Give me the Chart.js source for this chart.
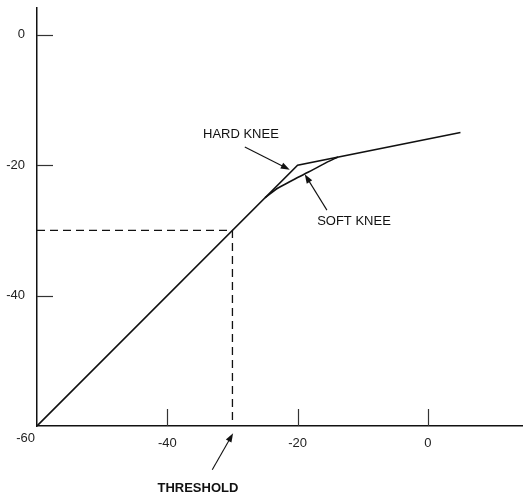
<!DOCTYPE html>
<html>
<head>
<meta charset="utf-8">
<script src="https://cdn.jsdelivr.net/npm/chart.js@4/dist/chart.umd.min.js"></script>
<style>
  html, body { margin: 0; padding: 0; background: #fff; }
  canvas { display: block; }
</style>
</head>
<body>
<canvas id="chart" width="523" height="493"></canvas>
<script>
'use strict';

// Input level (dB) vs output level (dB).
var hardKneeX = [-60, -20, 5];
var hardKneeY = [-60, -20, -15];

var softKneeX = [-25, -23, -21.5, -20, -18.4, -16.9, -15.4, -13.8];
var softKneeY = [-25, -23.5, -22.7, -21.9, -21.1, -20.3, -19.5, -18.75];

var thresholdX = [-60, -30, -30];
var thresholdY = [-30, -30, -60];

var xTicks = [-40, -20, 0];
var yTicks = [0, -20, -40];
var cornerLabel = '-60';

// Labels with arrows, in data coordinates.
var notes = [
  { text: 'HARD KNEE', at: [-28.7, -15.3], align: 'center', bold: false,
    from: [-28.1, -17.2], to: [-21.2, -20.7] },
  { text: 'SOFT KNEE', at: [-17.0, -28.7], align: 'left', bold: false,
    from: [-15.5, -26.9], to: [-18.9, -21.4] },
  { text: 'THRESHOLD', at: [-35.3, -69.6], align: 'center', bold: true,
    from: [-33.1, -66.7], to: [-29.9, -61.1] }
];

function toPoints(xs, ys) {
  return xs.map(function(x, i) { return { x: x, y: ys[i] }; });
}

var FONT = '"Liberation Sans", Arial, sans-serif';

function drawArrow(ctx, x1, y1, x2, y2) {
  var ang = Math.atan2(y2 - y1, x2 - x1);
  var len = 9, half = 3.2;
  ctx.beginPath();
  ctx.moveTo(x1, y1);
  ctx.lineTo(x2 - Math.cos(ang) * len * 0.8, y2 - Math.sin(ang) * len * 0.8);
  ctx.stroke();
  ctx.beginPath();
  ctx.moveTo(x2, y2);
  ctx.lineTo(x2 - Math.cos(ang) * len - Math.sin(ang) * half,
             y2 - Math.sin(ang) * len + Math.cos(ang) * half);
  ctx.lineTo(x2 - Math.cos(ang) * len + Math.sin(ang) * half,
             y2 - Math.sin(ang) * len - Math.cos(ang) * half);
  ctx.closePath();
  ctx.fill();
}

// inward tick marks, corner label and the arrow notes
var extras = {
  id: 'extras',
  afterDatasetsDraw: function(chart) {
    var ctx = chart.ctx;
    var xs = chart.scales.x, ys = chart.scales.y;
    var area = chart.chartArea;
    ctx.save();
    ctx.strokeStyle = '#333';
    ctx.lineWidth = 1.2;
    xTicks.forEach(function(v) {
      var px = Math.round(xs.getPixelForValue(v)) + 0.5;
      ctx.beginPath();
      ctx.moveTo(px, area.bottom);
      ctx.lineTo(px, area.bottom - 17);
      ctx.stroke();
    });
    yTicks.forEach(function(v) {
      var py = Math.round(ys.getPixelForValue(v)) + 0.5;
      ctx.beginPath();
      ctx.moveTo(area.left, py);
      ctx.lineTo(area.left + 16, py);
      ctx.stroke();
    });

    ctx.fillStyle = '#222';
    ctx.font = '13px ' + FONT;
    ctx.textAlign = 'right';
    ctx.textBaseline = 'middle';
    ctx.fillText(cornerLabel, area.left - 2, area.bottom + 12);

    notes.forEach(function(n) {
      ctx.font = (n.bold ? 'bold ' : '') + '13px ' + FONT;
      ctx.textAlign = n.align;
      ctx.textBaseline = 'middle';
      ctx.fillStyle = '#111';
      ctx.fillText(n.text, xs.getPixelForValue(n.at[0]), ys.getPixelForValue(n.at[1]));
      ctx.strokeStyle = '#111';
      ctx.lineWidth = 1.1;
      drawArrow(ctx,
        xs.getPixelForValue(n.from[0]), ys.getPixelForValue(n.from[1]),
        xs.getPixelForValue(n.to[0]), ys.getPixelForValue(n.to[1]));
    });
    ctx.restore();
  }
};

function keepTicks(list) {
  return function(scale) {
    scale.ticks = list.map(function(v) { return { value: v }; });
  };
}

new Chart(document.getElementById('chart').getContext('2d'), {
  type: 'line',
  data: {
    datasets: [
      { data: toPoints(hardKneeX, hardKneeY), borderColor: '#111', borderWidth: 1.6,
        pointRadius: 0, tension: 0, fill: false },
      { data: toPoints(softKneeX, softKneeY), borderColor: '#111', borderWidth: 1.6,
        pointRadius: 0, cubicInterpolationMode: 'monotone', fill: false },
      { data: toPoints(thresholdX, thresholdY), borderColor: '#111', borderWidth: 1.3,
        borderDash: [8, 5], pointRadius: 0, tension: 0, fill: false }
    ]
  },
  options: {
    responsive: false,
    devicePixelRatio: 1,
    animation: false,
    layout: { padding: { top: 8, left: 0, right: 0, bottom: 0 } },
    plugins: { legend: { display: false }, tooltip: { enabled: false } },
    scales: {
      x: {
        type: 'linear',
        min: -60,
        max: 14.6,
        grid: { display: false },
        border: { color: '#111', width: 1.5 },
        afterBuildTicks: keepTicks(xTicks),
        afterFit: function(scale) {
          scale.height = 67;
          scale.paddingLeft = 0;
          scale.paddingRight = 0;
        },
        ticks: { color: '#222', font: { family: FONT, size: 13 }, padding: 2,
                 maxRotation: 0, autoSkip: false }
      },
      y: {
        type: 'linear',
        min: -60,
        max: 4.1,
        grid: { display: false },
        border: { color: '#111', width: 1.5 },
        afterBuildTicks: keepTicks(yTicks),
        afterFit: function(scale) {
          scale.width = 37;
          scale.paddingTop = 0;
          scale.paddingBottom = 0;
        },
        ticks: { color: '#222', font: { family: FONT, size: 13 }, padding: 4,
                 autoSkip: false }
      }
    }
  },
  plugins: [extras]
});
</script>
</body>
</html>
